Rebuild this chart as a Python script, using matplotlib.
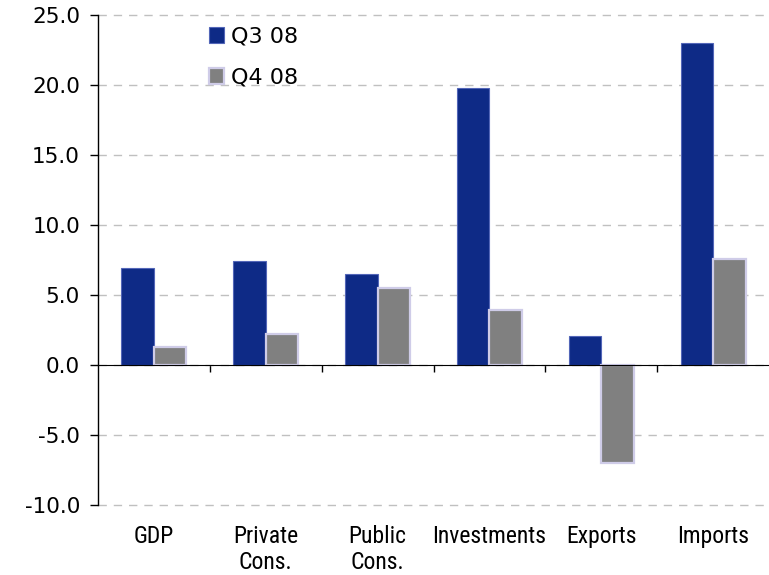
import matplotlib
matplotlib.use("Agg")
import matplotlib.pyplot as plt
import numpy as np
from matplotlib import font_manager
from matplotlib.transforms import blended_transform_factory

categories = ["GDP", "Private\nCons.", "Public\nCons.", "Investments", "Exports", "Imports"]
q3_08 = [6.9, 7.4, 6.5, 19.8, 2.1, 23.0]
q4_08 = [1.3, 2.2, 5.5, 3.9, -7.0, 7.6]
series_labels = ["Q3 08", "Q4 08"]
y_ticks = [-10, -5, 0, 5, 10, 15, 20, 25]

BLUE = "#0e2a86"
GREY = "#808080"


def pick_font(candidates):
    installed = {f.name for f in font_manager.fontManager.ttflist}
    for name in candidates:
        if name in installed:
            return name
    return "DejaVu Sans"


narrow = pick_font(["Liberation Sans Narrow", "DejaVu Sans Condensed", "Roboto Condensed"])

fig = plt.figure(figsize=(7.69, 5.75), dpi=100)
ax = fig.add_axes([98 / 769, 70 / 575, 671 / 769, 490 / 575])

x = np.arange(len(categories))
w = 0.29
b1 = ax.bar(x - w / 2, q3_08, w, color=BLUE, edgecolor="#5366b8", linewidth=0.8,
            label=series_labels[0], zorder=3)
b2 = ax.bar(x + w / 2, q4_08, w, color=GREY, edgecolor="#cfcce8", linewidth=1.6,
            label=series_labels[1], zorder=3)

ax.set_xlim(-0.5, 5.5)
ax.set_ylim(-10, 25)
ax.set_yticks(y_ticks)
ax.set_yticklabels([f"{v:.1f}" for v in y_ticks])
ax.yaxis.grid(True, color="#c0c0c0", linestyle=(0, (6, 5)), linewidth=1)
for gl in ax.get_ygridlines():
    gl.set_clip_on(False)
ax.set_axisbelow(True)

for side in ("top", "right"):
    ax.spines[side].set_visible(False)
ax.spines["bottom"].set_position(("data", 0))
ax.spines["bottom"].set_zorder(4)
ax.spines["left"].set_linewidth(1)

ax.set_xticks(np.arange(0.5, 5.0, 1.0))
ax.set_xticklabels([])
ax.tick_params(axis="x", length=5, width=1, direction="out")
ax.tick_params(axis="y", length=6, width=1, pad=7, labelsize=15.5)

trans = blended_transform_factory(ax.transData, ax.transAxes)
for xi, name in zip(x, categories):
    ax.text(xi, -0.04, name, transform=trans, ha="center", va="top",
            fontsize=17, family=narrow, linespacing=1.18)

ax.legend(handles=[b1, b2], loc="upper left", bbox_to_anchor=(0.166, 0.976),
          frameon=False, fontsize=16, handlelength=0.68, handleheight=0.68,
          handletextpad=0.3, labelspacing=0.95, borderpad=0, borderaxespad=0)

fig.savefig("out.png", dpi=100)
